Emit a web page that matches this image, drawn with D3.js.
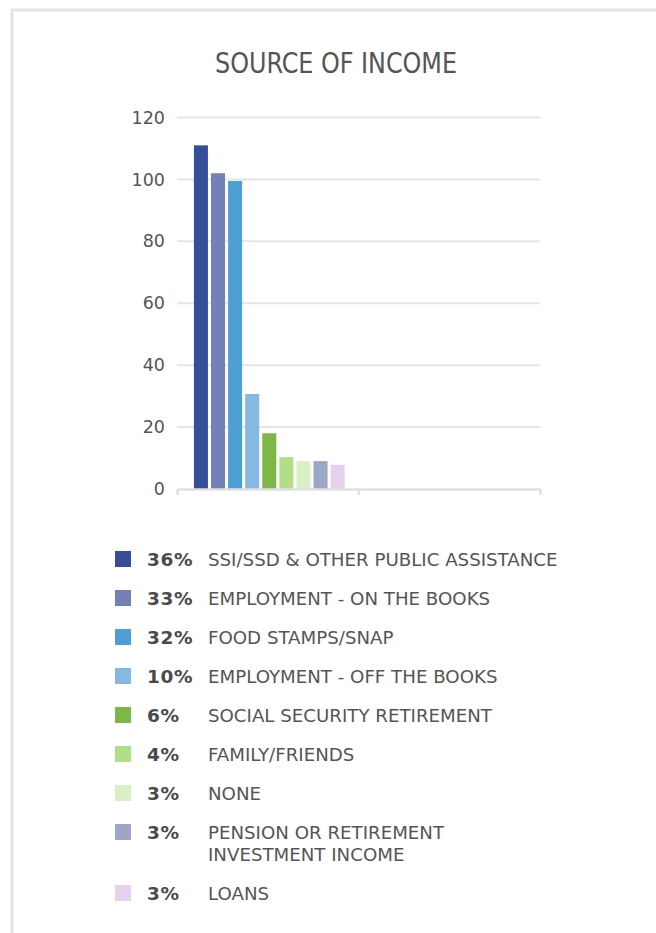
<!DOCTYPE html>
<html>
<head>
<meta charset="utf-8">
<script src="https://cdn.jsdelivr.net/npm/d3@7"></script>
<style>
  html, body { margin: 0; padding: 0; background: #ffffff; }
  svg { display: block; }
</style>
</head>
<body>
<svg id="chart" width="656" height="933"></svg>
<script>
// ---- data ----
const title = "SOURCE OF INCOME";
const categories = [
  "SSI/SSD & OTHER PUBLIC ASSISTANCE",
  "EMPLOYMENT - ON THE BOOKS",
  "FOOD STAMPS/SNAP",
  "EMPLOYMENT - OFF THE BOOKS",
  "SOCIAL SECURITY RETIREMENT",
  "FAMILY/FRIENDS",
  "NONE",
  "PENSION OR RETIREMENT\nINVESTMENT INCOME",
  "LOANS"
];
const values = [111, 102, 99.5, 30.7, 18, 10.3, 9, 9, 7.8];
const percents = ["36%", "33%", "32%", "10%", "6%", "4%", "3%", "3%", "3%"];
const colors = ["#364e98", "#7381b8", "#4d9fd6", "#84b9e2", "#7fb746", "#b3de88", "#d9efc6", "#9ca6c5", "#e6d1ee"];
const groups = ["A", "B"];
const yTicks = [0, 20, 40, 60, 80, 100, 120];

(function () {
// ---- layout ----
const svg = d3.select("#chart");
const pLeft = 177, pRight = 540, pTop = 117.5, pBottom = 489;

// frame
svg.append("path")
  .attr("d", "M12,1000 L12,10 L700,10")
  .attr("fill", "none")
  .attr("stroke", "#e4e4e4")
  .attr("stroke-width", 3);

// title
svg.append("text")
  .attr("x", 215).attr("y", 72.5)
  .attr("font-family", "'Liberation Sans Narrow', 'DejaVu Sans Condensed', sans-serif")
  .attr("font-size", 28.5)
  .attr("textLength", 242)
  .attr("lengthAdjust", "spacingAndGlyphs")
  .attr("fill", "#555555")
  .text(title);

const y = d3.scaleLinear().domain([0, 120]).range([pBottom, pTop]);
const x0 = d3.scaleBand().domain(groups).range([pLeft, pRight]).padding(0);
const x1 = d3.scaleBand().domain(d3.range(categories.length))
  .range([0, x0.bandwidth()]).paddingInner(0.18).paddingOuter(0.9).align(0.55);
const xEdge = d3.scaleLinear().domain([0, groups.length]).range([pLeft, pRight]);

// gridlines
svg.append("g").selectAll("line")
  .data(yTicks.filter(t => t > 0))
  .join("line")
  .attr("x1", pLeft).attr("x2", pRight)
  .attr("y1", d => y(d)).attr("y2", d => y(d))
  .attr("stroke", "#e5e5e8").attr("stroke-width", 2);

// y tick labels
const yAxis = svg.append("g")
  .attr("transform", `translate(${pLeft},0)`)
  .call(d3.axisLeft(y).tickValues(yTicks).tickSize(0).tickPadding(12));
yAxis.select(".domain").remove();
yAxis.selectAll("text")
  .attr("font-family", "'DejaVu Sans', sans-serif")
  .attr("font-size", 17.5)
  .attr("fill", "#555555");

// bars
svg.append("g").selectAll("rect")
  .data(values)
  .join("rect")
  .attr("x", (d, i) => x0(groups[0]) + x1(i))
  .attr("width", x1.bandwidth())
  .attr("y", d => y(d))
  .attr("height", d => y(0) - y(d))
  .attr("fill", (d, i) => colors[i]);

// x axis
const xAxis = svg.append("g")
  .attr("transform", `translate(0,${pBottom})`)
  .call(d3.axisBottom(xEdge).tickValues(d3.range(groups.length + 1)).tickFormat("").tickSize(6).tickSizeOuter(0));
xAxis.select(".domain").attr("stroke", "#e0e0e0").attr("stroke-width", 2.5);
xAxis.selectAll(".tick line").attr("stroke", "#e0e0e0").attr("stroke-width", 2.5);

// legend
const rowTops = [];
let yy = 551;
categories.forEach((c) => {
  rowTops.push(yy);
  const lines = c.split("\n").length;
  yy += 39 + (lines - 1) * 22;
});
const leg = svg.append("g");
categories.forEach((c, i) => {
  const g = leg.append("g").attr("transform", `translate(0,${rowTops[i]})`);
  g.append("rect").attr("x", 115).attr("y", 0).attr("width", 16).attr("height", 16).attr("fill", colors[i]);
  g.append("text").attr("x", 147).attr("y", 15)
    .attr("font-family", "'DejaVu Sans', sans-serif").attr("font-weight", "bold")
    .attr("font-size", 18.5).attr("letter-spacing", 0.6).attr("fill", "#4a4a4a").text(percents[i]);
  const t = g.append("text").attr("x", 208).attr("y", 15)
    .attr("font-family", "'DejaVu Sans', sans-serif")
    .attr("font-size", 18.2).attr("fill", "#555555");
  c.split("\n").forEach((ln, k) => {
    t.append("tspan").attr("x", 208).attr("dy", k === 0 ? 0 : 22).text(ln);
  });
});
})();
</script>
</body>
</html>
